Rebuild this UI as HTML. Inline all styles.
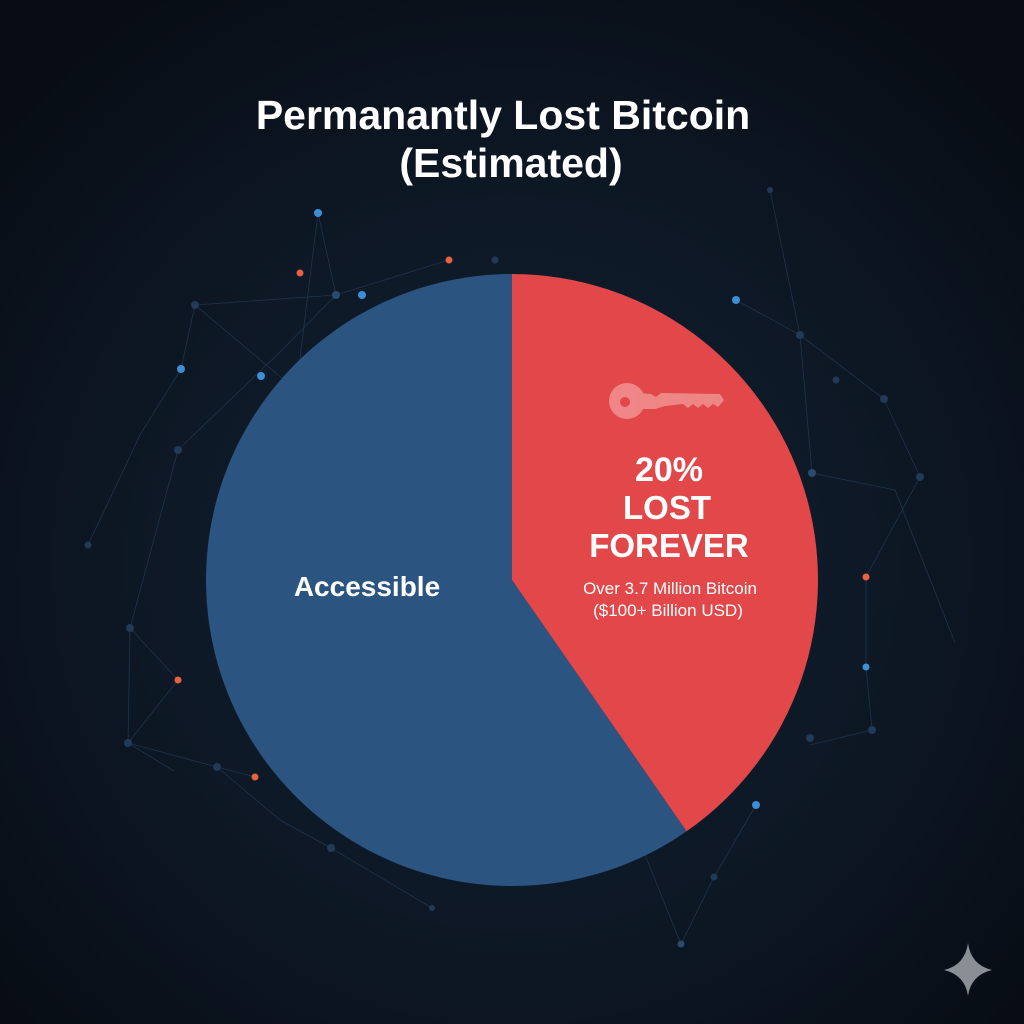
<!DOCTYPE html>
<html><head><meta charset="utf-8"><style>
html,body{margin:0;padding:0;background:#0b121c;}
svg{display:block}
</style></head><body>
<svg width="1024" height="1024" viewBox="0 0 1024 1024" xmlns="http://www.w3.org/2000/svg">
<defs>
<radialGradient id="bg" cx="50%" cy="55%" r="65%">
<stop offset="0" stop-color="#142236"/><stop offset="0.6" stop-color="#0d1724"/><stop offset="1" stop-color="#080d15"/>
</radialGradient>
</defs>
<rect width="1024" height="1024" fill="url(#bg)"/>
<g stroke="#2a4666" stroke-width="0.8" opacity="0.6" fill="none">
<polyline points="318,213 296,390 195,305 181,369 140,435 88,545"/>
<polyline points="318,213 336,295 280,352 178,450 130,628 128,743 217,767 255,777"/>
<polyline points="449,260 336,295 195,305"/>
<polyline points="736,300 800,335 884,399 920,477 866,577 866,667 872,730 810,745"/>
<polyline points="770,190 800,335 812,473 895,490 955,643"/>
<polyline points="130,628 178,680 128,743 174,771"/>
<polyline points="756,805 714,877 681,944 645,855"/>
<polyline points="217,767 280,820 331,848 432,908"/>
</g>
<g>
<circle cx="318" cy="213" r="4" fill="#3b8fd6"/>
<circle cx="449" cy="260" r="3.5" fill="#e7623f"/>
<circle cx="300" cy="273" r="3.5" fill="#e7623f"/>
<circle cx="336" cy="295" r="4" fill="#2a4a6e"/>
<circle cx="362" cy="295" r="4" fill="#3b8fd6"/>
<circle cx="195" cy="305" r="4" fill="#223a58"/>
<circle cx="181" cy="369" r="4" fill="#3b8fd6"/>
<circle cx="261" cy="376" r="4" fill="#3b8fd6"/>
<circle cx="178" cy="450" r="4" fill="#223a58"/>
<circle cx="88" cy="545" r="3.5" fill="#223a58"/>
<circle cx="130" cy="628" r="4" fill="#223a58"/>
<circle cx="178" cy="680" r="3.5" fill="#e7623f"/>
<circle cx="128" cy="743" r="4" fill="#223a58"/>
<circle cx="217" cy="767" r="4" fill="#223a58"/>
<circle cx="255" cy="777" r="3.5" fill="#e7623f"/>
<circle cx="331" cy="848" r="4" fill="#223a58"/>
<circle cx="495" cy="260" r="3.5" fill="#223a58"/>
<circle cx="736" cy="300" r="4" fill="#3b8fd6"/>
<circle cx="770" cy="190" r="3" fill="#223a58"/>
<circle cx="800" cy="335" r="4" fill="#223a58"/>
<circle cx="836" cy="380" r="3.5" fill="#223a58"/>
<circle cx="884" cy="399" r="4" fill="#223a58"/>
<circle cx="812" cy="473" r="4" fill="#2a4a6e"/>
<circle cx="920" cy="477" r="4" fill="#223a58"/>
<circle cx="866" cy="577" r="3.5" fill="#e7623f"/>
<circle cx="866" cy="667" r="3.5" fill="#3b8fd6"/>
<circle cx="872" cy="730" r="4" fill="#223a58"/>
<circle cx="810" cy="738" r="4" fill="#223a58"/>
<circle cx="756" cy="805" r="4" fill="#3b8fd6"/>
<circle cx="714" cy="877" r="3.5" fill="#223a58"/>
<circle cx="681" cy="944" r="3.5" fill="#2a4a6e"/>
<circle cx="432" cy="908" r="3" fill="#223a58"/>
</g>
<path d="M512,580 L512,274 A306,306 0 1 0 686.6,831.3 Z" fill="#2b5480"/>
<path d="M512,580 L512,274 A306,306 0 0 1 686.6,831.3 Z" fill="#e2474a"/>
<g fill="#f08a8a" opacity="0.95">
<circle cx="627" cy="401" r="18"/>
<path d="M640,393 L651,394 L656,397 L661,393 L720,394 L724,400 L718,407 L713,404 L708,408 L703,404 L698,408 L693,404 L688,408 L683,404 L665,406 L655,409 L640,409 Z"/>
</g>
<circle cx="625" cy="402" r="5" fill="#e2474a"/>
<g font-family="Liberation Sans, sans-serif" font-weight="bold" fill="#ffffff" text-anchor="middle">
<text x="503" y="129" font-size="41">Permanantly Lost Bitcoin</text>
<text x="511" y="177" font-size="41">(Estimated)</text>
<text x="367" y="596" font-size="28">Accessible</text>
<text x="669" y="481" font-size="34">20%</text>
<text x="667" y="519" font-size="33">LOST</text>
<text x="669" y="557" font-size="33">FOREVER</text>
<text x="670" y="594" font-size="17" font-weight="normal">Over 3.7 Million Bitcoin</text>
<text x="668" y="616" font-size="17" font-weight="normal">($100+ Billion USD)</text>
</g>
<path d="M968,943 Q971,965 992,970 Q971,975 968,996 Q965,975 944,970 Q965,965 968,943 Z" fill="#8a8f96"/>
</svg>
</body></html>
